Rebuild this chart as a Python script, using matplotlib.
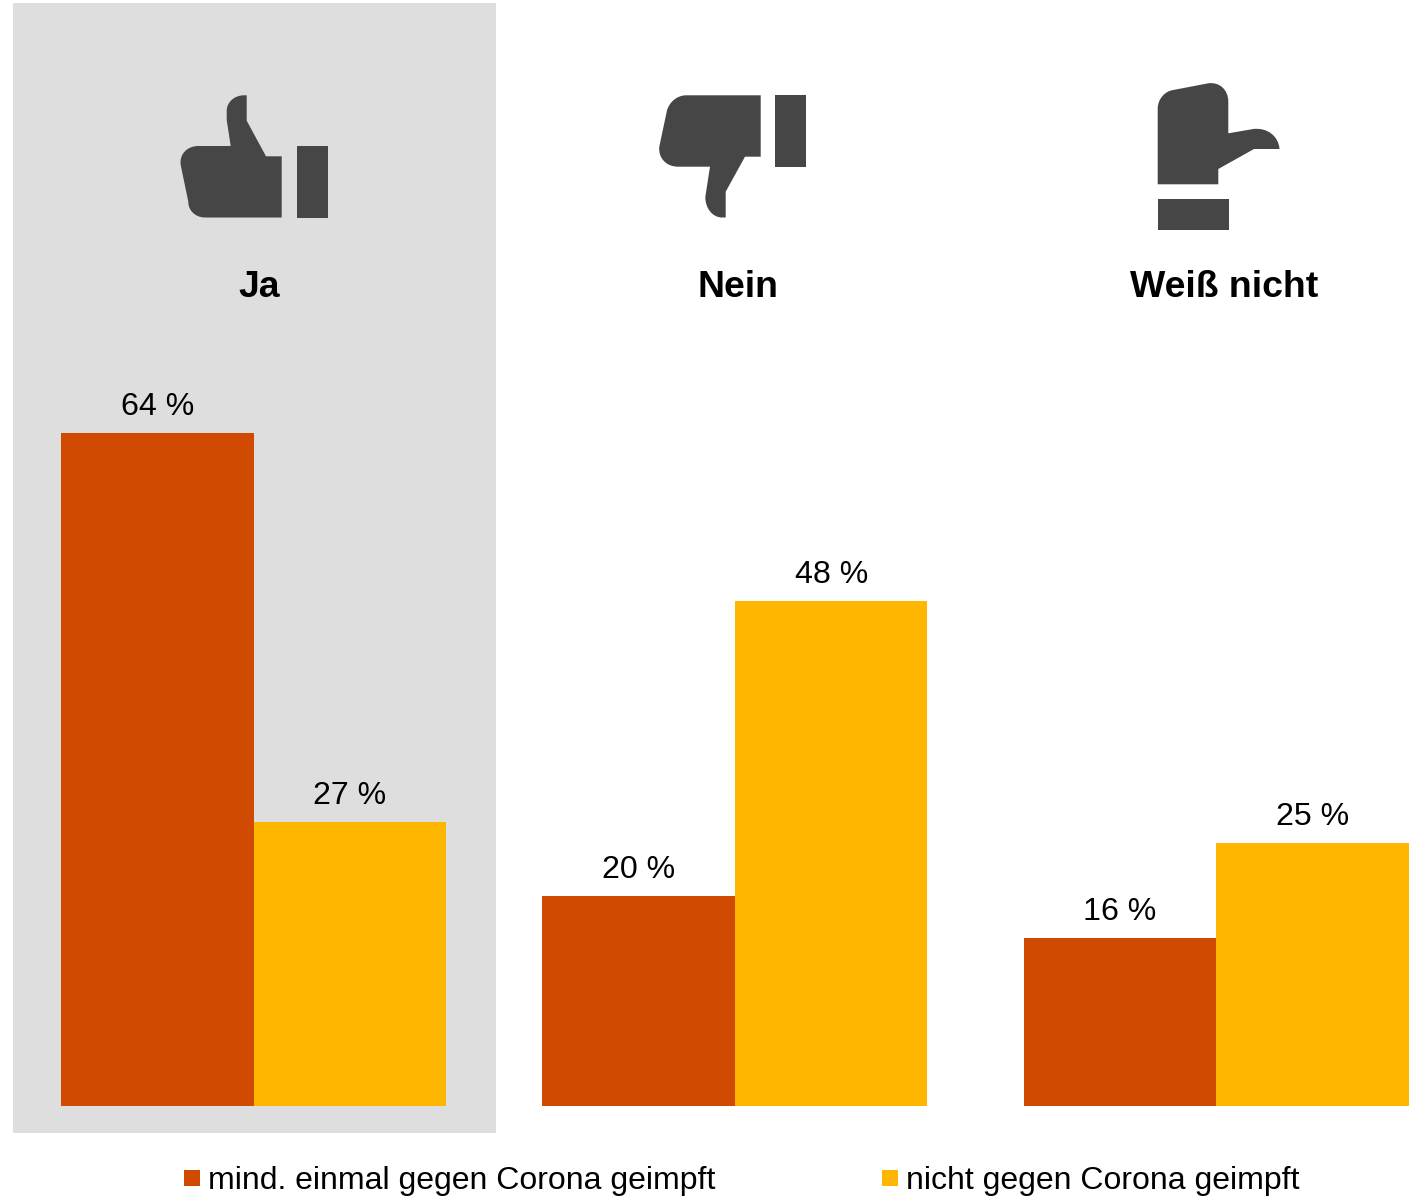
import matplotlib
matplotlib.use("Agg")
import matplotlib.pyplot as plt
from matplotlib.patches import PathPatch, Rectangle
from matplotlib.path import Path

plt.rcParams['font.family'] = ['Liberation Sans', 'DejaVu Sans']

# Survey answers, shares in percent
categories = ["Ja", "Nein", "Weiß nicht"]
series_names = ["mind. einmal gegen Corona geimpft", "nicht gegen Corona geimpft"]
vaccinated = [64, 20, 16]
unvaccinated = [27, 48, 25]

ORANGE = "#D04A02"
YELLOW = "#FFB600"
ICON = "#464646"
PANEL = "#DEDEDE"

W, H = 1422, 1196
fig = plt.figure(figsize=(W / 100, H / 100), dpi=100, facecolor="white")

# Full-figure layer in pixel units for the panel, icons, headings and legend
bg = fig.add_axes([0, 0, 1, 1], zorder=0)
bg.set_xlim(0, W)
bg.set_ylim(H, 0)
bg.axis("off")
bg.add_patch(Rectangle((13, 3), 483, 1130, fc=PANEL, ec="none"))

# Bars
left, right, bottom, top = 13, 1422, 1106, 3
ax = fig.add_axes([left / W, 1 - bottom / H, (right - left) / W, (bottom - top) / H], zorder=1)
ax.patch.set_alpha(0)
unit = 481.4
ax.set_xlim((left - 253.5) / unit, (right - 253.5) / unit)
ax.set_ylim(0, (bottom - top) / 10.516)
ax.axis("off")

bar_w = 0.4
x = list(range(len(categories)))
bars_a = ax.bar([i - bar_w / 2 for i in x], vaccinated, bar_w, color=ORANGE, linewidth=0)
bars_b = ax.bar([i + bar_w / 2 for i in x], unvaccinated, bar_w, color=YELLOW, linewidth=0)
for bars, vals in ((bars_a, vaccinated), (bars_b, unvaccinated)):
    for b, v in zip(bars, vals):
        ax.annotate(f"{v} %", (b.get_x() + b.get_width() / 2, v), xytext=(0, 13),
                    textcoords="offset points", ha="center", va="baseline",
                    fontsize=23.1, color="black")


def icon(outline):
    """Fill a closed outline; a 3-tuple (cx, cy, x, y) style entry rounds a corner."""
    verts, codes = [outline[0]], [Path.MOVETO]
    for seg in outline[1:]:
        if len(seg) == 2:
            verts.append(seg)
            codes.append(Path.LINETO)
        else:
            cx, cy, ex, ey = seg
            sx, sy = verts[-1]
            k = 0.56
            verts += [(sx + k * (cx - sx), sy + k * (cy - sy)),
                      (ex + k * (cx - ex), ey + k * (cy - ey)), (ex, ey)]
            codes += [Path.CURVE4] * 3
    verts.append(outline[0])
    codes.append(Path.CLOSEPOLY)
    bg.add_patch(PathPatch(Path(verts, codes), fc=ICON, ec="none"))


# Thumb up
icon([(246.7, 95.3), (246.7, 120.7), (266, 156.3), (281.7, 156.3), (281.7, 217.5),
      (205, 217.5), (188, 217.5, 188.3, 201.7), (180.7, 165),
      (178, 146, 198.3, 146), (230.7, 146), (226.7, 120), (226.7, 111),
      (226.7, 95.3, 244, 95.3)])
bg.add_patch(Rectangle((297, 146), 31, 71.7, fc=ICON, ec="none"))

# Thumb down
icon([(760.7, 95.3), (760.7, 156.7), (745, 156.7), (725.7, 191.7), (725.7, 217.5),
      (722, 217.5), (705.3, 217.5, 705.3, 197), (710, 166.7), (678, 166.7),
      (657, 166.7, 659.3, 146.7), (666.7, 111.7), (670, 95.3, 686, 95.3)])
bg.add_patch(Rectangle((775, 95), 31, 72, fc=ICON, ec="none"))

# Undecided, thumb pointing sideways
icon([(1157.7, 184.3), (1157.7, 108.3), (1158, 92, 1173.3, 90), (1208.3, 83.3),
      (1228.3, 80.5, 1228.3, 101.7), (1228.3, 133.3), (1253.3, 129),
      (1278, 126, 1279.5, 149), (1254, 149), (1218.3, 169), (1218.3, 184.3)])
bg.add_patch(Rectangle((1158, 199), 71, 31, fc=ICON, ec="none"))

# Column headings
for cx, name in zip((259, 738.5, 1224), categories):
    bg.text(cx, 297, name, ha="center", va="baseline", fontsize=26.9,
            fontweight="bold", color="black")

# Legend
for sx, color, name in zip((184, 882), (ORANGE, YELLOW), series_names):
    bg.add_patch(Rectangle((sx, 1170), 16, 16, fc=color, ec="none"))
    bg.text(sx + 24, 1189, name, ha="left", va="baseline", fontsize=23.05, color="black")

fig.savefig("out.png", dpi=100)
